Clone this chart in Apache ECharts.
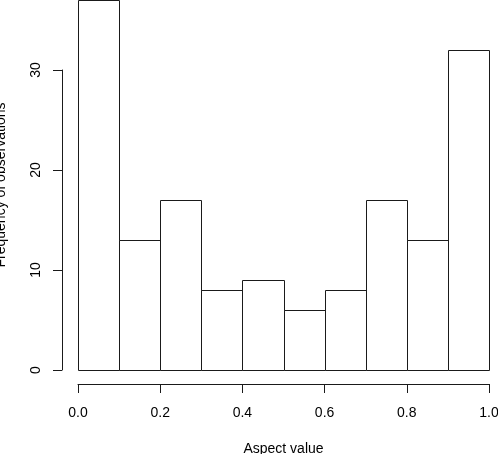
<!DOCTYPE html>
<html>
<head>
<meta charset="utf-8">
<script src="https://cdn.jsdelivr.net/npm/echarts@6/dist/echarts.min.js"></script>
<style>
  html, body { margin: 0; padding: 0; background: #fff; }
  #chart { width: 498px; height: 454px; }
</style>
</head>
<body>
<div id="chart"></div>
<script>
// histogram bins (left edge, right edge) and counts
const binStart = [0.0, 0.1, 0.2, 0.3, 0.4, 0.5, 0.6, 0.7, 0.8, 0.9];
const binEnd = [0.1, 0.2, 0.3, 0.4, 0.5, 0.6, 0.7, 0.8, 0.9, 1.0];
const counts = [37, 13, 17, 8, 9, 6, 8, 17, 13, 32];
const xTicks = [0, 0.2, 0.4, 0.6, 0.8, 1.0];
const yTicks = [0, 10, 20, 30];

const font = "Liberation Sans, Arial, Helvetica, sans-serif";
const ink = "#1a1a1a";

const chart = echarts.init(document.getElementById("chart"), null, { renderer: "canvas" });

const data = binStart.map((s, i) => [s, binEnd[i], counts[i]]);

const option = {
	animation: false,
	backgroundColor: "#fff",
	grid: [
		// plot area for bars
		{ left: 78, right: 9, top: 0, bottom: 84, outerBoundsMode: "none", containLabel: false },
		// only for the y axis line, which spans the tick range like R does
		{ left: 78, right: 9, top: 70, bottom: 84, outerBoundsMode: "none", containLabel: false },
	],
	xAxis: [
		{
			type: "value",
			gridIndex: 0,
			min: 0,
			max: 1,
			interval: 0.2,
			offset: 14,
			axisLine: { show: true, onZero: false, lineStyle: { color: ink, width: 1 } },
			axisTick: { show: true, length: 9, lineStyle: { color: ink } },
			axisLabel: {
				color: "#000",
				fontFamily: font,
				fontSize: 14,
				margin: 22,
				formatter: (v) => v.toFixed(1),
			},
			splitLine: { show: false },
			name: "Aspect value",
			nameLocation: "middle",
			nameGap: 58,
			nameTextStyle: { color: "#000", fontFamily: font, fontSize: 14 },
		},
		{ type: "value", gridIndex: 1, min: 0, max: 1, show: false },
	],
	yAxis: [
		{
			type: "value",
			gridIndex: 0,
			min: 0,
			max: 37,
			axisLine: { show: false },
			axisTick: { show: false },
			axisLabel: { show: false },
			splitLine: { show: false },
			name: "Frequency of observations",
			nameLocation: "middle",
			nameRotate: 90,
			nameGap: 70,
			nameTextStyle: { color: "#000", fontFamily: font, fontSize: 14 },
		},
		{
			type: "value",
			gridIndex: 1,
			min: 0,
			max: 30,
			interval: 10,
			offset: 16,
			axisLine: { show: true, onZero: false, lineStyle: { color: ink, width: 1 } },
			axisTick: { show: true, length: 9, lineStyle: { color: ink } },
			axisLabel: {
				color: "#000",
				fontFamily: font,
				fontSize: 14,
				rotate: 90,
				margin: 19,
			},
			splitLine: { show: false },
		},
	],
	series: [
		{
			type: "custom",
			xAxisIndex: 0,
			yAxisIndex: 0,
			clip: false,
			data: data,
			renderItem: (params, api) => {
				const p0 = api.coord([api.value(0), api.value(2)]);
				const p1 = api.coord([api.value(1), 0]);
				return {
					type: "rect",
					shape: {
						x: Math.round(p0[0]) + 0.5,
						y: Math.round(p0[1]) + 0.5,
						width: Math.round(p1[0]) - Math.round(p0[0]),
						height: Math.round(p1[1]) - Math.round(p0[1]),
					},
					style: { fill: "#fff", stroke: ink, lineWidth: 1 },
				};
			},
		},
	],
};

chart.setOption(option);
</script>
</body>
</html>
